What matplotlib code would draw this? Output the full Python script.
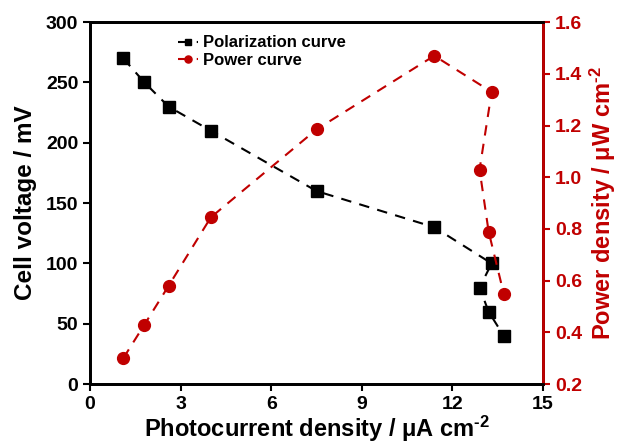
import matplotlib.pyplot as plt

plt.rcParams['font.family'] = ['Liberation Sans', 'DejaVu Sans']
plt.rcParams['font.weight'] = 'bold'
plt.rcParams['mathtext.default'] = 'bf'
plt.rcParams['mathtext.fontset'] = 'custom'
plt.rcParams['mathtext.bf'] = 'Liberation Sans:bold'
plt.rcParams['mathtext.rm'] = 'Liberation Sans'

# dados
current = [1.1, 1.8, 2.6, 4.0, 7.5, 11.4, 13.3, 12.9, 13.2, 13.7]
voltage = [270, 250, 230, 210, 160, 130, 100, 80, 60, 40]
power = [0.30, 0.43, 0.58, 0.845, 1.185, 1.47, 1.33, 1.03, 0.79, 0.55]

red = '#c00000'

fig = plt.figure(figsize=(6.17, 4.43), dpi=100)
ax = fig.add_axes([0.146, 0.133, 0.734, 0.817])
ax2 = ax.twinx()

l1, = ax.plot(current, voltage, 'k--s', ms=8, lw=1.5, dashes=(5, 4), label='Polarization curve')
l2, = ax2.plot(current, power, '--o', color=red, ms=8.5, lw=1.5, dashes=(5, 4), label='Power curve')

ax.set_xlim(0, 15)
ax.set_ylim(0, 300)
ax2.set_ylim(0.2, 1.6)
ax.set_xticks([0, 3, 6, 9, 12, 15])
ax.set_yticks([0, 50, 100, 150, 200, 250, 300])
ax2.set_yticks([0.2, 0.4, 0.6, 0.8, 1.0, 1.2, 1.4, 1.6])
ax2.set_yticklabels(['0.2', '0.4', '0.6', '0.8', '1.0', '1.2', '1.4', '1.6'])

ax.set_xlabel('Photocurrent density / \u03bcA cm$^{\\text{-2}}$', fontsize=17, fontweight='bold', labelpad=1)
ax.set_ylabel('Cell voltage / mV', fontsize=17.5, fontweight='bold', labelpad=6)
ax2.set_ylabel('Power density / \u03bcW cm$^{\\text{-2}}$', fontsize=17, fontweight='bold', color=red, labelpad=4)

ax.tick_params(labelsize=14, width=1.5, length=5)
ax2.tick_params(labelsize=14, width=1.5, length=5, colors=red)
for s in ax.spines.values():
    s.set_linewidth(2)
for s in ax2.spines.values():
    s.set_linewidth(2)
ax2.spines['right'].set_color(red)

ax.legend(handles=[l1, l2], loc='upper left', bbox_to_anchor=(0.16, 1.005), frameon=False,
          fontsize=12, handlelength=1.2, handletextpad=0.3, labelspacing=0.15, markerscale=0.6)

fig.savefig('out.png', dpi=100)
